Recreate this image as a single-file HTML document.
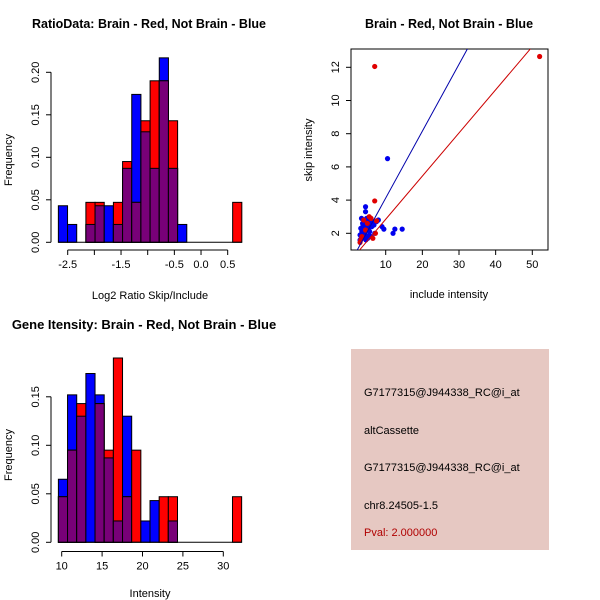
<!DOCTYPE html>
<html><head><meta charset="utf-8"><style>
body{margin:0;background:#fff}
svg{display:block;font-family:"Liberation Sans",sans-serif}
</style></head><body>
<svg id="c" width="600" height="600" viewBox="0 0 600 600">
<rect width="600" height="600" fill="#fff"/>
<g id="tl"></g>
<g id="tr"></g>
<g id="bl"></g>
<g>
<rect x="351" y="349" width="198" height="201" fill="#e6c8c2"/>
<g font-size="11" fill="#000">
<text x="364" y="396">G7177315@J944338_RC@i_at</text>
<text x="364" y="434">altCassette</text>
<text x="364" y="471">G7177315@J944338_RC@i_at</text>
<text x="364" y="509">chr8.24505-1.5</text>
<text x="364" y="536" fill="#b00000">Pval: 2.000000</text>
</g></g>
<g font-family="Liberation Sans, sans-serif" font-size="11" text-anchor="middle">
<text x="149" y="28" font-weight="bold" font-size="12.5">RatioData: Brain - Red, Not Brain - Blue</text>
<text x="449" y="28" font-weight="bold" font-size="12.5">Brain - Red, Not Brain - Blue</text>
<text x="144" y="329" font-weight="bold" font-size="13">Gene Itensity: Brain - Red, Not Brain - Blue</text>
<text x="150" y="299">Log2 Ratio Skip/Include</text>
<text x="449" y="298">include intensity</text>
<text x="150" y="597">Intensity</text>
<text x="12" y="160" transform="rotate(-90 12 160)">Frequency</text>
<text x="312" y="150" transform="rotate(-90 312 150)">skip intensity</text>
<text x="12" y="455" transform="rotate(-90 12 455)">Frequency</text>
</g>
</svg>
<script>
// Ratio histogram data
const ratioBinStart = -2.675, ratioBinWidth = 0.172;
const ratioBlue = [0.043,0.021,0,0.021,0.043,0.043,0.021,0.087,0.174,0.130,0.087,0.217,0.087,0.021,0,0,0,0,0,0];
const ratioRed  = [0,0,0,0.047,0.047,0,0.047,0.095,0.047,0.143,0.190,0.190,0.143,0,0,0,0,0,0,0.047];
const ratioYTicks = [0,0.05,0.10,0.15,0.20];
const ratioYLabels = ["0.00","0.05","0.10","0.15","0.20"];
const ratioXTicks = [-2.5,-2,-1.5,-1,-0.5,0,0.5];
const ratioXLabels = ["-2.5","","-1.5","","-0.5","0.0","0.5"];
// Gene intensity histogram data
const intBinStart = 9.59, intBinWidth = 1.134;
const intBlue = [0.065,0.152,0.130,0.174,0.152,0.087,0.022,0.130,0,0.022,0.043,0,0.022,0,0,0,0,0,0,0];
const intRed  = [0.047,0.095,0.143,0,0.143,0.095,0.190,0.047,0.095,0,0,0.047,0.047,0,0,0,0,0,0,0.047];
const intYTicks = [0,0.05,0.10,0.15];
const intYLabels = ["0.00","0.05","0.10","0.15"];
const intXTicks = [10,15,20,25,30];
const intXLabels = ["10","15","20","25","30"];
// Scatter data
const redX = [7,52,7,7.5,3,6.5,5.5,4,3.5,6,5,7.2,4.5,3.2];
const redY = [12.05,12.65,3.95,2.75,1.45,1.7,3.0,2.8,1.8,2.9,2.6,2.0,2.2,1.6];
const blueX = [10.5,4.5,4.5,12,12.5,14.5,9.5,9,3,3.5,4,4.5,5,5.5,6,6.5,7,3.2,3.8,4.2,4.8,5.2,5.8,6.2,3,3.5,4,4.5,5,5.5,6,3.3,3.7,4.1,4.6,5.1,5.6,6.8,7.5,8,3.4,4.3,5.4,3.6,4.4];
const blueY = [6.5,3.6,3.3,2.0,2.25,2.25,2.25,2.4,1.6,1.8,2.0,2.2,2.4,2.6,2.8,2.7,2.0,2.3,2.5,2.7,2.9,2.8,2.6,2.4,1.9,2.1,2.3,2.5,2.2,1.9,1.8,1.7,2.6,2.8,1.6,1.7,2.1,2.5,2.7,2.8,2.9,1.9,2.3,2.2,1.8];
const blueFit = [0.403, 0.093];
const redFit = [0.26, 0.246];
const scXTicks = [10,20,30,40,50];
const scYTicks = [2,4,6,8,10,12];

const NS='http://www.w3.org/2000/svg';
function mk(p,tag,a){const e=document.createElementNS(NS,tag);for(const k in a)e.setAttribute(k,a[k]);p.appendChild(e);return e;}
function txt(p,x,y,s,a){const t=mk(p,'text',Object.assign({x:x,y:y,'text-anchor':'middle','font-size':11},a||{}));t.textContent=s;return t;}

function hist(g,cfg){
  const xs=v=>cfg.x0px+(v-cfg.x0)*cfg.xk, ys=v=>cfg.y0px-v*cfg.yk;
  const n=Math.max(cfg.blue.length,cfg.red.length);
  for(let i=0;i<n;i++){
    const l=xs(cfg.bs+i*cfg.bw), r=xs(cfg.bs+(i+1)*cfg.bw);
    const b=cfg.blue[i]||0, rd=cfg.red[i]||0, m=Math.min(b,rd);
    if(b>0){const e=mk(g,'rect',{x:l,y:ys(b),width:r-l,height:ys(0)-ys(b),fill:'#0000ff',stroke:'#000','stroke-width':1});
      
      }
    if(rd>0){const e=mk(g,'rect',{x:l,y:ys(rd),width:r-l,height:ys(0)-ys(rd),fill:'#ff0000',stroke:'#000','stroke-width':1});
      
      }
    if(m>0){const e=mk(g,'rect',{x:l,y:ys(m),width:r-l,height:ys(0)-ys(m),fill:'#780078',stroke:'#000','stroke-width':1});
      
      }
  }
  mk(g,'line',{x1:xs(cfg.bs),x2:xs(cfg.bs+n*cfg.bw),y1:ys(0),y2:ys(0),stroke:'#000'});
  const ya=cfg.yax;
  mk(g,'line',{x1:ya,x2:ya,y1:ys(cfg.yt[0]),y2:ys(cfg.yt[cfg.yt.length-1]),stroke:'#000'});
  cfg.yt.forEach((v,i)=>{mk(g,'line',{x1:ya-5,x2:ya,y1:ys(v),y2:ys(v),stroke:'#000'});
    const t=txt(g,ya-12,ys(v),cfg.yl[i],{transform:`rotate(-90 ${ya-12} ${ys(v)})`});
    
    });
  const xa=cfg.xax;
  mk(g,'line',{x1:xs(cfg.xt[0]),x2:xs(cfg.xt[cfg.xt.length-1]),y1:xa,y2:xa,stroke:'#000'});
  cfg.xt.forEach((v,i)=>{mk(g,'line',{x1:xs(v),x2:xs(v),y1:xa,y2:xa+5,stroke:'#000'});
    if(cfg.xl[i]){const t=txt(g,xs(v),xa+18,cfg.xl[i]);
      
      }});
}
const tl=document.getElementById('tl');
hist(tl,{x0:-2.5,x0px:67.7,xk:53.33,y0px:242.3,yk:850,bs:ratioBinStart,bw:ratioBinWidth,blue:ratioBlue,red:ratioRed,yt:ratioYTicks,yl:ratioYLabels,xt:ratioXTicks,xl:ratioXLabels,yax:51,xax:250});
const bl=document.getElementById('bl');
hist(bl,{x0:10,x0px:61.7,xk:8.08,y0px:542.3,yk:970,bs:intBinStart,bw:intBinWidth,blue:intBlue,red:intRed,yt:intYTicks,yl:intYLabels,xt:intXTicks,xl:intXLabels,yax:51,xax:551.5});

const tr=document.getElementById('tr');
const sx=v=>385.7+(v-10)*3.665, sy=v=>233.3-(v-2)*16.6;
mk(tr,'rect',{x:351,y:49,width:197,height:201,fill:'none',stroke:'#000'});
scXTicks.forEach(v=>{mk(tr,'line',{x1:sx(v),x2:sx(v),y1:250,y2:255,stroke:'#000'});
  const t=txt(tr,sx(v),268,String(v));
  
  });
scYTicks.forEach(v=>{mk(tr,'line',{x1:346,x2:351,y1:sy(v),y2:sy(v),stroke:'#000'});
  const t=txt(tr,339,sy(v),String(v),{transform:`rotate(-90 339 ${sy(v)})`});
  
  });
const clip=mk(tr,'clipPath',{id:'sc'});mk(clip,'rect',{x:351,y:49,width:197,height:201});
const pg=mk(tr,'g',{'clip-path':'url(#sc)'});
blueX.forEach((x,i)=>{const c=mk(pg,'circle',{cx:sx(x),cy:sy(blueY[i]),r:2.6,fill:'#0000ee'});
  
  });
redX.forEach((x,i)=>{const c=mk(pg,'circle',{cx:sx(x),cy:sy(redY[i]),r:2.6,fill:'#e00000'});
  
  });
[[blueFit,'#0000aa','blue-fit-line'],[redFit,'#cc0000','red-fit-line']].forEach(([f,col,nm])=>{
  const l=mk(pg,'line',{x1:sx(0),y1:sy(f[1]),x2:sx(60),y2:sy(f[0]*60+f[1]),stroke:col,'stroke-width':1});
  
  });
</script>
</body></html>
